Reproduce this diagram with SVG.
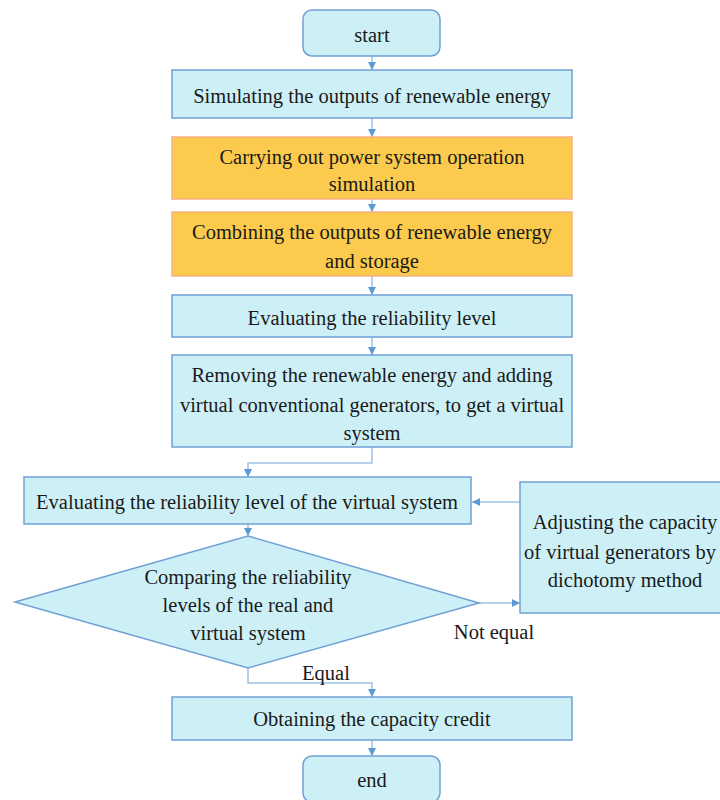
<svg xmlns="http://www.w3.org/2000/svg" width="720" height="800" viewBox="0 0 720 800">
  <defs>
    <marker id="arrow" markerWidth="10" markerHeight="10" refX="9" refY="5" orient="auto" markerUnits="userSpaceOnUse">
      <path d="M1,1 L9,5 L1,9 Z" fill="#5b9bd5"/>
    </marker>
    <style>
      .box { fill: #cdf0f6; stroke: #6fa0d6; stroke-width: 1.5; }
      .warm { fill: #fcca4c; stroke: #f4b183; stroke-width: 1.5; }
      .lbl { font-size: 20.5px; fill: #1a1a1a; text-anchor: middle; }
      .edge { fill: none; stroke: #9dc3e6; stroke-width: 1.5; marker-end: url(#arrow); }
    </style>
  </defs>
  <rect width="720" height="800" fill="#ffffff"/>

  <g font-family="Liberation Serif, DejaVu Serif, serif">
  <g id="connectors">
    <path class="edge" d="M372,56 V70"/>
    <path class="edge" d="M372,118 V137"/>
    <path class="edge" d="M372,199 V212"/>
    <path class="edge" d="M372,276 V295"/>
    <path class="edge" d="M372,337 V355"/>
    <path class="edge" d="M372,447 V463 H248 V477"/>
    <path class="edge" d="M248,524 V536"/>
    <path class="edge" d="M479,603 H520"/>
    <path class="edge" d="M520,502 H472"/>
    <path class="edge" d="M248,668 V683 H372 V697"/>
    <path class="edge" d="M372,740 V756"/>
    <text class="lbl" x="494" y="639">Not equal</text>
    <text class="lbl" x="326" y="680">Equal</text>
  </g>

  <g id="start">
    <rect class="box" x="303" y="10" width="137" height="46" rx="9"/>
    <text class="lbl" x="372" y="42">start</text>
  </g>

  <g id="simulate-outputs">
    <rect class="box" x="172" y="70" width="400" height="48"/>
    <text class="lbl" x="372" y="103">Simulating the outputs of renewable energy</text>
  </g>

  <g id="operation-simulation">
    <rect class="warm" x="172" y="137" width="400" height="62"/>
    <text class="lbl" x="372" y="164">Carrying out power system operation</text>
    <text class="lbl" x="372" y="191">simulation</text>
  </g>

  <g id="combine-outputs">
    <rect class="warm" x="172" y="212" width="400" height="64"/>
    <text class="lbl" x="372" y="239">Combining the outputs of renewable energy</text>
    <text class="lbl" x="372" y="268">and storage</text>
  </g>

  <g id="evaluate-reliability">
    <rect class="box" x="172" y="295" width="400" height="42"/>
    <text class="lbl" x="372" y="325">Evaluating the reliability level</text>
  </g>

  <g id="virtual-system">
    <rect class="box" x="172" y="355" width="400" height="92"/>
    <text class="lbl" x="372" y="382">Removing the renewable energy and adding</text>
    <text class="lbl" x="372" y="412">virtual conventional generators, to get a virtual</text>
    <text class="lbl" x="372" y="440">system</text>
  </g>

  <g id="evaluate-virtual">
    <rect class="box" x="24" y="477" width="447" height="47"/>
    <text class="lbl" x="247" y="509">Evaluating the reliability level of the virtual system</text>
  </g>

  <g id="adjust-capacity">
    <rect class="box" x="520" y="482" width="205" height="131"/>
    <text class="lbl" x="625" y="529">Adjusting the capacity</text>
    <text class="lbl" x="620" y="559">of virtual generators by</text>
    <text class="lbl" x="625" y="587">dichotomy method</text>
  </g>

  <g id="compare">
    <polygon class="box" points="248,536 479,603 248,668 15,602"/>
    <text class="lbl" x="248" y="584">Comparing the reliability</text>
    <text class="lbl" x="248" y="612">levels of the real and</text>
    <text class="lbl" x="248" y="640">virtual system</text>
  </g>

  <g id="capacity-credit">
    <rect class="box" x="172" y="697" width="400" height="43"/>
    <text class="lbl" x="372" y="726">Obtaining the capacity credit</text>
  </g>

  <g id="end">
    <rect class="box" x="303" y="756" width="137" height="46" rx="9"/>
    <text class="lbl" x="372" y="787">end</text>
  </g>
  </g>
</svg>
